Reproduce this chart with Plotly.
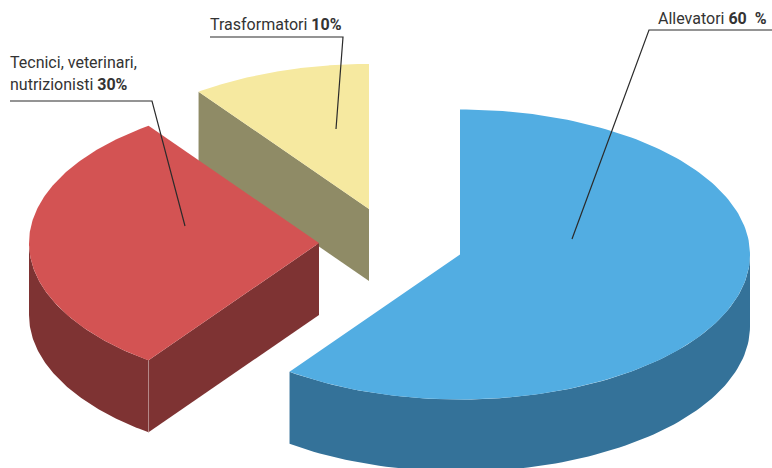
import numpy as np
import plotly.graph_objects as go

# Data
categories = ["Allevatori", "Tecnici, veterinari, nutrizionisti", "Trasformatori"]
values = [60, 30, 10]
top_colors = ["#52ADE2", "#D35353", "#F6E9A0"]
side_colors = ["#347299", "#7E3333", "#8F8B66"]

# Layout of the exploded pie (pixels of the 772x468 frame)
centers = [(460, 254.5), (319, 243), (369, 209)]
RX, RY, DEPTH = 290, 145, 72
FONT = "Roboto, Liberation Sans, sans-serif"
INK = "#333333"


def ell(c, t):
    t = np.asarray(t, dtype=float)
    return c[0] + RX * np.sin(t), c[1] - RY * np.cos(t)


def arc(a, b, n=90):
    return np.linspace(a, b, n)


fractions = np.array(values) / sum(values)
ends = np.cumsum(fractions) * 2 * np.pi
starts = ends - fractions * 2 * np.pi


def poly(xs, ys, color):
    return go.Scatter(x=xs, y=ys, mode="lines", fill="toself", fillcolor=color,
                      line=dict(width=0, color=color), hoverinfo="skip", showlegend=False)


def close(xs, ys):
    return list(xs) + [xs[0]], list(ys) + [ys[0]]


traces = []
# back to front: yellow, red, blue
for i in [2, 1, 0]:
    c = centers[i]
    a, b = starts[i], ends[i]
    # visible cut face at the start angle (red and yellow only)
    if i in (1, 2):
        ex, ey = ell(c, [a])
        traces.append(poly(*close([c[0], ex[0], ex[0], c[0]],
                                  [c[1], ey[0], ey[0] + DEPTH, c[1] + DEPTH]), side_colors[i]))
    # outer wall: only the part facing the viewer (pi/2 .. 3pi/2)
    wa, wb = max(a, np.pi / 2), min(b, 3 * np.pi / 2)
    if wb > wa:
        wx, wy = ell(c, arc(wa, wb))
        traces.append(poly(*close(list(wx) + list(wx[::-1]),
                                  list(wy) + list((wy + DEPTH)[::-1])), side_colors[i]))
    # light vertical edge on red
    if i == 1:
        ex, ey = ell(c, [a])
        traces.append(go.Scatter(x=[ex[0], ex[0]], y=[ey[0], ey[0] + DEPTH], mode="lines",
                                 line=dict(width=1, color="#B58A8A"), hoverinfo="skip", showlegend=False))
    # top
    tx, ty = ell(c, arc(a, b, 180))
    traces.append(poly(*close([c[0]] + list(tx), [c[1]] + list(ty)), top_colors[i]))

fig = go.Figure(traces)

# Leader lines
leader_x = [[772, 649, 572], [210, 343, 336], [10, 152, 185]]
leader_y = [[30, 30, 239], [37, 37, 129], [101, 101, 226]]
for px, py in zip(leader_x, leader_y):
    fig.add_trace(go.Scatter(x=px, y=py, mode="lines", line=dict(width=1.2, color="#2b2b2b"),
                             hoverinfo="skip", showlegend=False))

labels = [
    (656, 18, f"Allevatori <b>{values[0]}&nbsp;&nbsp;%</b>"),
    (208, 24, f"Trasformatori <b>{values[2]}%</b>"),
    (8, 62, "Tecnici, veterinari,"),
    (8, 84, f"nutrizionisti <b>{values[1]}%</b>"),
]
for x, y, t in labels:
    fig.add_annotation(x=x, y=y, text=t, showarrow=False, xanchor="left", yanchor="middle",
                       font=dict(family=FONT, size=16, color=INK), xref="x", yref="y")

fig.update_layout(
    width=772, height=468, margin=dict(l=0, r=0, t=0, b=0),
    paper_bgcolor="white", plot_bgcolor="white", showlegend=False,
    xaxis=dict(range=[0, 772], visible=False, fixedrange=True),
    yaxis=dict(range=[468, 0], visible=False, fixedrange=True),
)
fig.write_html("out.html", config={"displayModeBar": False},
               post_script="document.body.style.margin='0';")
